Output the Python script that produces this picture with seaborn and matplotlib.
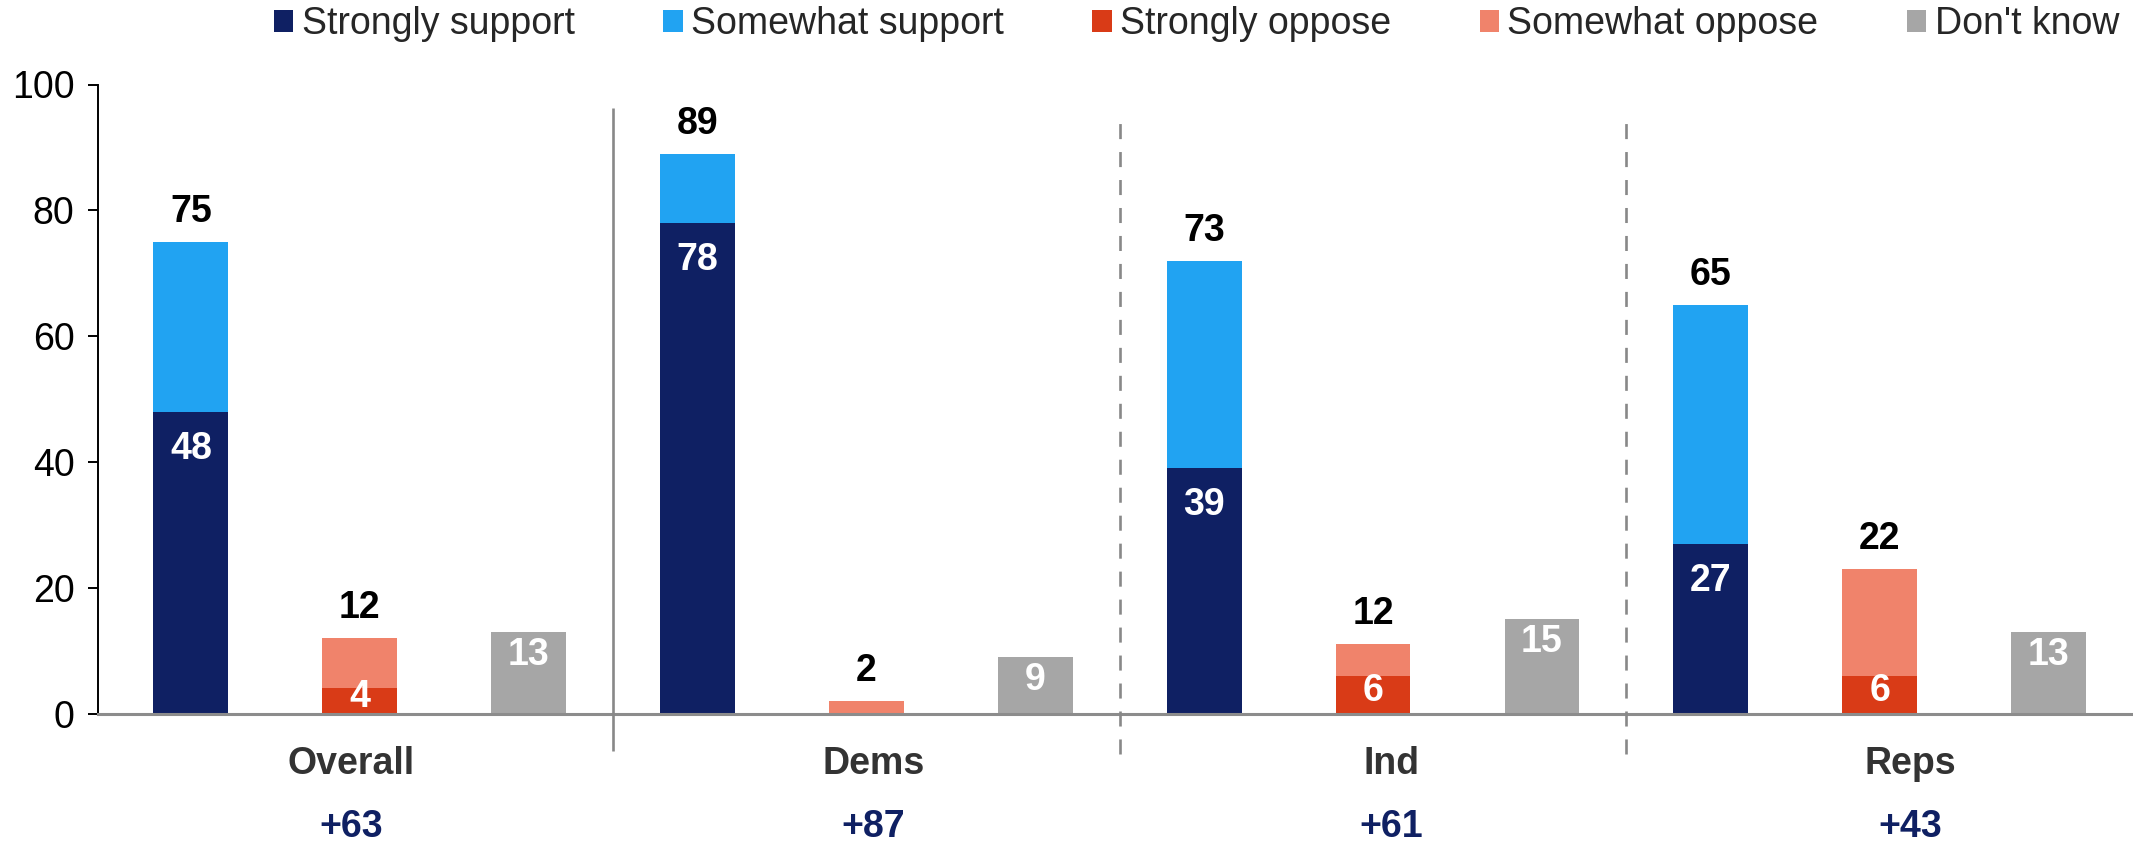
import numpy as np
import pandas as pd
import matplotlib
matplotlib.use("Agg")
import matplotlib.pyplot as plt
import seaborn as sns
from matplotlib.patches import Patch

# ---------------- data ----------------
groups = ["Overall", "Dems", "Ind", "Reps"]
strongly_support = [48, 78, 39, 27]
somewhat_support = [27, 11, 33, 38]
strongly_oppose = [4, 0, 6, 6]
somewhat_oppose = [8, 2, 5, 17]
dont_know = [13, 9, 15, 13]
support_labels = [75, 89, 73, 65]
oppose_labels = [12, 2, 12, 22]
net_labels = ["+63", "+87", "+61", "+43"]
legend_labels = ["Strongly support", "Somewhat support", "Strongly oppose",
                 "Somewhat oppose", "Don't know"]
y_ticks = [0, 20, 40, 60, 80, 100]

# ---------------- style ----------------
NAVY, SKY, RED, SALMON, GRAY = "#0F2063", "#21A3F2", "#D93B17", "#F0836B", "#A6A6A6"
FS = 27
sns.set_theme(style="ticks")
plt.rcParams["font.family"] = ["Liberation Sans", "DejaVu Sans"]

W, H, DPI = 2133, 841, 100
fig = plt.figure(figsize=(W / DPI, H / DPI), dpi=DPI)
ax_left, ax_bottom_px, ax_top_px = 98, 713.5, 84.5
ax = fig.add_axes([ax_left / W, 1 - ax_bottom_px / H, 1 - ax_left / W,
                   (ax_bottom_px - ax_top_px) / H])

# ---------------- build tables ----------------
slots, back_vals, back_cols, front_vals, front_cols = [], [], [], [], []
for gi, g in enumerate(groups):
    s_tot = strongly_support[gi] + somewhat_support[gi]
    o_tot = strongly_oppose[gi] + somewhat_oppose[gi]
    slots += [f"{g}|support", f"{g}|oppose", f"{g}|dk"]
    back_vals += [s_tot, o_tot, dont_know[gi]]
    back_cols += [SKY, SALMON, GRAY]
    front_vals += [strongly_support[gi], strongly_oppose[gi], np.nan]
    front_cols += [NAVY, RED, GRAY]

back = pd.DataFrame({"slot": slots, "value": back_vals})
front = pd.DataFrame({"slot": slots, "value": front_vals}).dropna()

BW = 0.443
sns.barplot(data=back, x="slot", y="value", hue="slot", order=slots,
            hue_order=slots, palette=dict(zip(slots, back_cols)), width=BW,
            saturation=1, errorbar=None, legend=False, linewidth=0, ax=ax)
sns.barplot(data=front, x="slot", y="value", hue="slot", order=slots,
            hue_order=slots, palette=dict(zip(slots, front_cols)), width=BW,
            saturation=1, errorbar=None, legend=False, linewidth=0, ax=ax)

ax.set_xlim(-0.55, 11.5)
ax.set_ylim(0, 100)
ax.set_yticks(y_ticks)
ax.set_xlabel("")
ax.set_ylabel("")
ax.tick_params(axis="x", bottom=False, labelbottom=False)
ax.tick_params(axis="y", left=True, length=7, width=1.4, pad=10,
               labelsize=FS, colors="black", direction="out")
for s in ("top", "right"):
    ax.spines[s].set_visible(False)
ax.spines["left"].set_color("black")
ax.spines["left"].set_linewidth(1.4)
ax.spines["bottom"].set_color("#8C8C8C")
ax.spines["bottom"].set_linewidth(2.2)

px = 72.0 / DPI  # points per pixel

# ---------------- labels ----------------
for gi in range(len(groups)):
    xs, xo, xd = 3 * gi, 3 * gi + 1, 3 * gi + 2
    s_tot = strongly_support[gi] + somewhat_support[gi]
    o_tot = strongly_oppose[gi] + somewhat_oppose[gi]
    # totals above bars
    for x, top, lab in ((xs, s_tot, support_labels[gi]), (xo, o_tot, oppose_labels[gi])):
        ax.annotate(str(lab), xy=(x, top), xytext=(0, 20 * px), textcoords="offset points",
                    ha="center", va="baseline", fontsize=FS, fontweight="bold",
                    color="black", annotation_clip=False)
    # strongly support inside
    ax.annotate(str(strongly_support[gi]), xy=(xs, strongly_support[gi]),
                xytext=(0, -47 * px), textcoords="offset points", ha="center",
                va="baseline", fontsize=FS, fontweight="bold", color="white")
    # strongly oppose inside
    if strongly_oppose[gi] > 0:
        ax.annotate(str(strongly_oppose[gi]), xy=(xo, strongly_oppose[gi] / 2),
                    xytext=(0, -6.5 * px), textcoords="offset points", ha="center",
                    va="baseline", fontsize=FS, fontweight="bold", color="white")
    # don't know inside
    ax.annotate(str(dont_know[gi]), xy=(xd, dont_know[gi]),
                xytext=(0, -33 * px), textcoords="offset points", ha="center",
                va="baseline", fontsize=FS, fontweight="bold", color="white")

# group names and net values under the axis
nudge = [-0.05, 0.04, 0.11, 0.18]
for gi, g in enumerate(groups):
    xc = 3 * gi + 1 + nudge[gi]
    ax.annotate(g, xy=(xc, 0), xytext=(0, -60.5 * px), textcoords="offset points",
                ha="center", va="baseline", fontsize=FS, fontweight="bold",
                color="#333333", annotation_clip=False)
    ax.annotate(net_labels[gi], xy=(xc, 0), xytext=(0, -123.5 * px),
                textcoords="offset points", ha="center", va="baseline",
                fontsize=FS, fontweight="bold", color=NAVY, annotation_clip=False)

# separators
for gi in range(1, len(groups)):
    xb = 3 * gi - 0.5
    if gi == 1:
        ax.plot([xb, xb], [-6.0, 96.3], color="#888888", lw=1.9,
                solid_capstyle="butt", clip_on=False, zorder=5)
    else:
        ax.plot([xb, xb], [-6.4, 94.0], color="#888888", lw=1.9,
                linestyle=(0, (5.7, 4.9)), dash_capstyle="butt",
                clip_on=False, zorder=5)

# legend
handles = [Patch(facecolor=c, edgecolor="none") for c in (NAVY, SKY, RED, SALMON, GRAY)]
fig.legend(handles, legend_labels, ncol=5, loc="center right",
           bbox_to_anchor=(0.9935, 1 - 24 / H), frameon=False, fontsize=FS,
           handlelength=0.52, handleheight=0.52, handletextpad=0.22,
           columnspacing=2.36, borderpad=0, borderaxespad=0)

fig.savefig("out.png", dpi=DPI)
